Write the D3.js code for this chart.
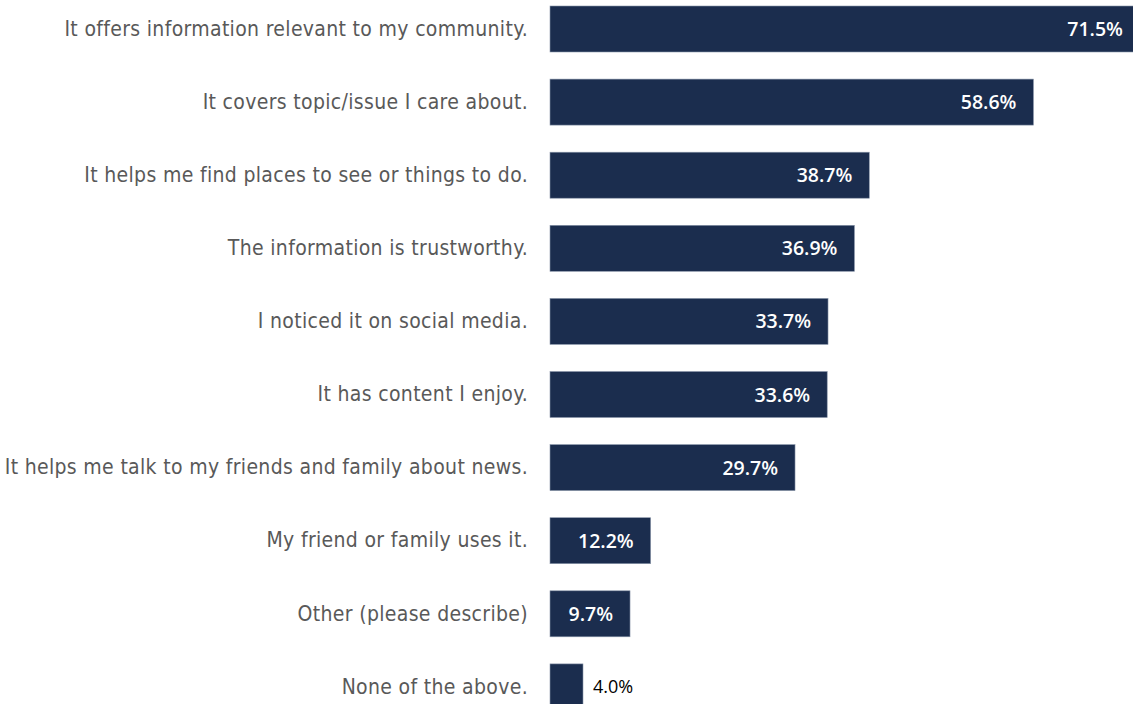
<!DOCTYPE html>
<html>
<head>
<meta charset="utf-8">
<script src="https://cdn.jsdelivr.net/npm/d3@7"></script>
<style>
  html, body { margin: 0; padding: 0; background: #fff; overflow: hidden; }
  svg { display: block; }
</style>
</head>
<body>
<svg id="chart" width="1133" height="704"></svg>
<script>
// Reasons respondents give for using the outlet (share of respondents, %)
const categories = [
  "It offers information relevant to my community.",
  "It covers topic/issue I care about.",
  "It helps me find places to see or things to do.",
  "The information is trustworthy.",
  "I noticed it on social media.",
  "It has content I enjoy.",
  "It helps me talk to my friends and family about news.",
  "My friend or family uses it.",
  "Other (please describe)",
  "None of the above."
];
const values = [71.5, 58.6, 38.7, 36.9, 33.7, 33.6, 29.7, 12.2, 9.7, 4.0];

const svg = d3.select("#chart");
const labelFont = "'DejaVu Sans Condensed', 'DejaVu Sans', sans-serif";
const valueFont = "'Open Sans', 'DejaVu Sans Condensed', sans-serif";

const x0 = 550;
const x = d3.scaleLinear().domain([0, 10]).range([x0, x0 + 82.5]);
const y = d3.scaleBand()
  .domain(categories)
  .range([6, 6 + 73.1 * categories.length - 27.1])
  .paddingInner(27.1 / 73.1)
  .paddingOuter(0);

const rows = svg.selectAll("g.row")
  .data(categories.map((c, i) => ({ c, v: values[i] })))
  .join("g")
  .attr("class", "row");

rows.append("rect")
  .attr("x", x(0))
  .attr("y", d => y(d.c))
  .attr("width", d => x(d.v) - x(0))
  .attr("height", y.bandwidth())
  .attr("fill", "#1b2d4e")
  .attr("stroke", "#8a96aa")
  .attr("stroke-width", 0.6);

// Category labels, right-aligned against the bars
const yAxis = d3.axisLeft(y).tickSize(0).tickPadding(22);
const ga = svg.append("g").attr("transform", `translate(${x0},0)`).call(yAxis);
ga.select(".domain").remove();
ga.selectAll("text")
  .attr("font-family", labelFont)
  .attr("font-size", 21)
  .attr("letter-spacing", "0.33px")
  .attr("fill", "#595959");

// Value labels: inside the bar in white, outside in black when the bar is short
rows.append("text")
  .attr("x", d => d.v > 6 ? x(d.v) - 17 : x(d.v) + 10)
  .attr("y", d => y(d.c) + y.bandwidth() / 2)
  .attr("dy", "0.36em")
  .attr("text-anchor", d => d.v > 6 ? "end" : "start")
  .attr("font-family", valueFont)
  .attr("font-size", d => d.v > 6 ? 19.5 : 18)
  .attr("font-weight", d => d.v > 6 ? 600 : 400)
  .attr("fill", d => d.v > 6 ? "#ffffff" : "#000000")
  .text(d => d.v.toFixed(1) + "%");
</script>
</body>
</html>
